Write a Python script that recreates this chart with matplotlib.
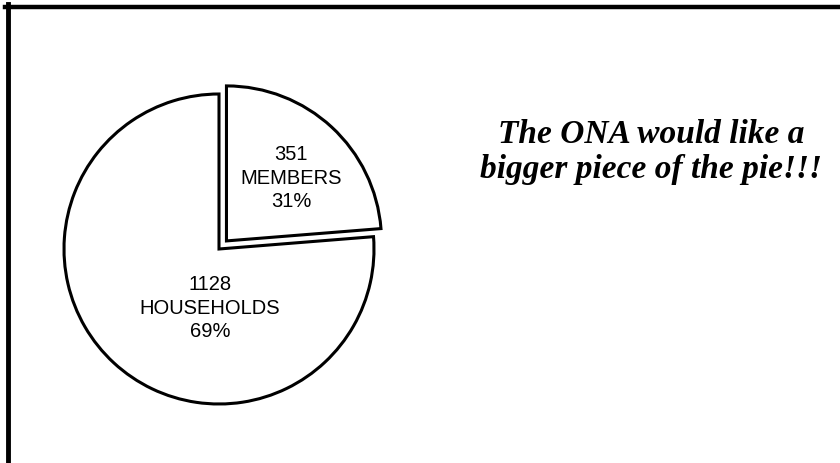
import matplotlib.pyplot as plt
from matplotlib.lines import Line2D

# data (the printed percentages are the ones on the slide)
labels = ["351\nMEMBERS\n31%", "1128\nHOUSEHOLDS\n69%"]
counts = [351, 1128]
explode = [11, 0]
title_text = "The ONA would like a\nbigger piece of the pie!!!"

fig = plt.figure(figsize=(8.4, 4.64), dpi=100)
ax = fig.add_axes([0, 0, 1, 1])

cx, cy, r = 219, 214, 155
wedges, _ = ax.pie(counts, explode=explode, startangle=90, counterclock=False,
                   center=(cx, cy), radius=r,
                   colors=["white", "white"],
                   wedgeprops={"edgecolor": "black", "linewidth": 2.2})

ax.set_xlim(0, 840)
ax.set_ylim(0, 464)
ax.set_aspect("equal")
ax.axis("off")

# slice labels
ax.text(cx + 72, cy + 72, labels[0], ha="center", va="center",
        fontsize=14.5, family="Liberation Sans", linespacing=1.3)
ax.text(cx - 9, cy - 58, labels[1], ha="center", va="center",
        fontsize=14.5, family="Liberation Sans", linespacing=1.3)

ax.text(651, 312, title_text, ha="center", va="center", fontsize=24,
        family="Liberation Serif", style="italic", weight="bold",
        linespacing=1.15)

# frame on the top and left sides only
ax.add_line(Line2D([5, 840], [456.5, 456.5], color="black", lw=3.2))
ax.add_line(Line2D([8, 8], [0, 459], color="black", lw=3.5))

fig.savefig("out.png", dpi=100)
